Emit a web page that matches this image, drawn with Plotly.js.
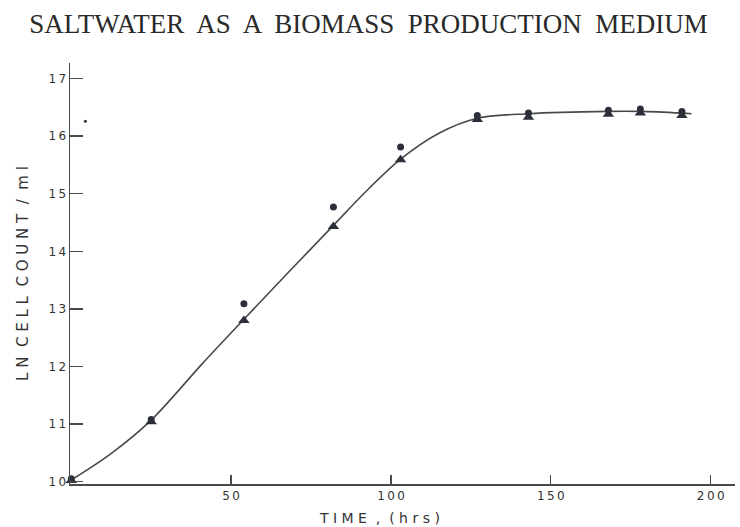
<!DOCTYPE html>
<html>
<head>
<meta charset="utf-8">
<script src="https://cdn.plot.ly/plotly-3.0.1.min.js"></script>
<style>
  html, body { margin: 0; padding: 0; background: #ffffff; }
  #chart { width: 740px; height: 527px; }
</style>
</head>
<body>
<div id="chart"></div>
<script>
// Growth in saltwater: ln cell count per ml against time (hours)
var sampleHours = [0, 25, 54, 82, 103, 127, 143, 168, 178, 191];
var circleCounts = [10.05, 11.08, 13.09, 14.77, 15.81, 16.36, 16.40, 16.45, 16.47, 16.43];
var triangleCounts = [10.02, 11.04, 12.80, 14.43, 15.59, 16.29, 16.33, 16.38, 16.40, 16.36];

// Hand-fitted growth curve, read at these times
var curveHours = [0, 12, 25, 41, 54, 68, 82, 92, 103, 115, 127, 143, 168, 178, 191, 194];
var curveCounts = [10.03, 10.47, 11.07, 12.05, 12.82, 13.64, 14.45, 15.03, 15.60, 16.05, 16.31, 16.39, 16.43, 16.43, 16.40, 16.39];

// Lone speck near the top of the vertical axis
var speckHours = [4.4];
var speckCounts = [16.26];

var xTickVals = [50, 100, 150, 200];
var xTickText = ['5\u20090', '1\u20090\u20090', '1\u20095\u20090', '2\u20090\u20090'];
var yTickVals = [10, 11, 12, 13, 14, 15, 16, 17];
var yTickText = ['1\u20090', '1\u20091', '1\u20092', '1\u20093', '1\u20094', '1\u20095', '1\u20096', '1\u20097'];

var ink = '#2b2f3a';
var lineInk = '#4a4a4a';
var letterFont = 'DejaVu Sans, Liberation Sans, sans-serif';

var traces = [
  {
    x: curveHours, y: curveCounts, type: 'scatter', mode: 'lines',
    line: { shape: 'spline', smoothing: 0.9, color: lineInk, width: 1.6 },
    hoverinfo: 'skip', showlegend: false
  },
  {
    x: sampleHours, y: triangleCounts, type: 'scatter', mode: 'markers',
    marker: { symbol: 'triangle-up', size: 10, color: ink },
    cliponaxis: false, showlegend: false
  },
  {
    x: sampleHours, y: circleCounts, type: 'scatter', mode: 'markers',
    marker: { symbol: 'circle', size: 7, color: ink },
    cliponaxis: false, showlegend: false
  },
  {
    x: speckHours, y: speckCounts, type: 'scatter', mode: 'markers',
    marker: { symbol: 'circle', size: 3, color: ink },
    cliponaxis: false, showlegend: false
  }
];

var layout = {
  width: 740, height: 527,
  margin: { l: 70, r: 5, t: 63, b: 43 },
  paper_bgcolor: '#ffffff', plot_bgcolor: '#ffffff',
  title: {
    text: 'SALTWATER  AS  A  BIOMASS  PRODUCTION  MEDIUM',
    font: { family: 'Liberation Serif, Times New Roman, serif', size: 27, color: '#2a2a2a' },
    x: 0.498, xanchor: 'center', xref: 'container',
    y: 0.955, yanchor: 'middle', yref: 'container'
  },
  xaxis: {
    range: [-0.4, 207.6],
    showline: true, linecolor: lineInk, linewidth: 1.5,
    ticks: 'inside', ticklen: 9, tickwidth: 1.3, tickcolor: lineInk,
    tickvals: xTickVals, ticktext: xTickText,
    tickfont: { family: letterFont, size: 12, color: '#333' },
    showgrid: false, zeroline: false
  },
  yaxis: {
    range: [9.96, 17.27],
    showline: true, linecolor: lineInk, linewidth: 1.5,
    ticks: 'inside', ticklen: 13, tickwidth: 1.3, tickcolor: lineInk,
    tickvals: yTickVals, ticktext: yTickText,
    tickfont: { family: letterFont, size: 12, color: '#333' },
    showgrid: false, zeroline: false,
    title: {
      text: 'L N  C E L L  C O U N T  /  m l',
      font: { family: letterFont, size: 15, color: '#333' },
      standoff: 16
    }
  },
  annotations: [
    {
      text: 'T I M E  ,  ( h r s )',
      xref: 'paper', yref: 'paper', x: 0.465, y: -0.081,
      xanchor: 'center', yanchor: 'middle', showarrow: false,
      font: { family: letterFont, size: 14, color: '#333' }
    }
  ]
};

Plotly.newPlot('chart', traces, layout, { displayModeBar: false, staticPlot: true });
</script>
</body>
</html>
